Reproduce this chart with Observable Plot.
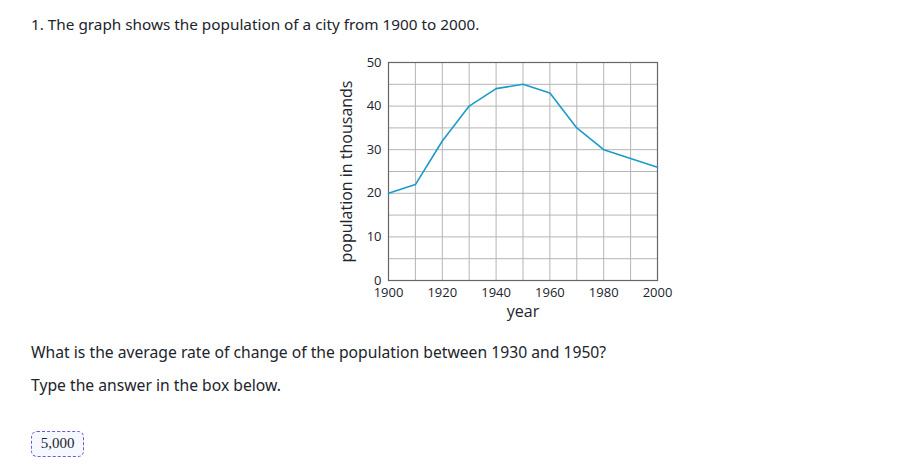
<!DOCTYPE html>
<html>
<head>
<meta charset="utf-8">
<script src="https://cdn.jsdelivr.net/npm/d3@7"></script>
<script src="https://cdn.jsdelivr.net/npm/@observablehq/plot@0.6"></script>
<style>
  body { margin: 0; background: #fff; font-family: "Noto Sans", sans-serif; color: #21242c; }
  #page { position: relative; width: 923px; height: 473px; }
  .t { position: absolute; font-size: 15.7px; white-space: nowrap; }
  #chart { position: absolute; left: 330px; top: 50px; }
  #answer { position: absolute; left: 31px; top: 431px; width: 53px; height: 26px; box-sizing: border-box;
    border: 1.5px dashed #7854d6; border-radius: 6px; background: #f6f8ff;
    font-family: "Liberation Serif", "DejaVu Serif", serif; font-size: 15px; line-height: 23px; text-align: center; color: #21242c; }
</style>
</head>
<body>
<div id="page">
  <div class="t" style="left:31px; top:14px; font-size:15.3px;">1. The graph shows the population of a city from 1900 to 2000.</div>
  <div id="chart"></div>
  <div class="t" style="left:31px; top:341px;">What is the average rate of change of the population between 1930 and 1950?</div>
  <div class="t" style="left:31px; top:374px;">Type the answer in the box below.</div>
  <div id="answer">5,000</div>
</div>
<script>
const years = [1900, 1910, 1920, 1930, 1940, 1950, 1960, 1970, 1980, 1990, 2000];
const population = [20, 22, 32, 40, 44, 45, 43, 35, 30, 28, 26];
const xTicks = [1900, 1920, 1940, 1960, 1980, 2000];
const yTicks = [0, 10, 20, 30, 40, 50];
const xGrid = d3.range(1900, 2001, 10);
const yGrid = d3.range(0, 51, 5);

const data = years.map((y, i) => ({year: y, pop: population[i]}));

const chart = Plot.plot({
  width: 347,
  height: 275,
  marginLeft: 58,
  marginTop: 12,
  marginRight: 20,
  marginBottom: 45,
  style: { fontFamily: "'Open Sans', sans-serif", fontSize: "13px", color: "#21242c", background: "transparent" },
  x: { domain: [1900, 2000] },
  y: { domain: [0, 50] },
  marks: [
    Plot.ruleX(xGrid, { stroke: "#b5b5b5", strokeWidth: 1 }),
    Plot.ruleY(yGrid, { stroke: "#b5b5b5", strokeWidth: 1 }),
    Plot.frame({ stroke: "#666", strokeWidth: 1.2 }),
    Plot.line(data, { x: "year", y: "pop", stroke: "#1a9bc9", strokeWidth: 1.6 }),
    Plot.axisX({ ticks: xTicks, tickSize: 0, tickPadding: 7, tickFormat: d => String(d), label: null, fontSize: 13 }),
    Plot.axisY({ ticks: yTicks, tickSize: 0, tickPadding: 7, tickFormat: d => String(d), label: null, fontSize: 13 }),
    Plot.text(["year"], { frameAnchor: "bottom", dy: 31, lineAnchor: "middle", textAnchor: "middle", fontSize: 16, fill: "#21242c" }),
    Plot.text(["population in thousands"], { frameAnchor: "left", dx: -42, lineAnchor: "middle", textAnchor: "middle", rotate: -90, fontSize: 16, fill: "#21242c" })
  ]
});
document.getElementById("chart").appendChild(chart);
</script>
</body>
</html>
